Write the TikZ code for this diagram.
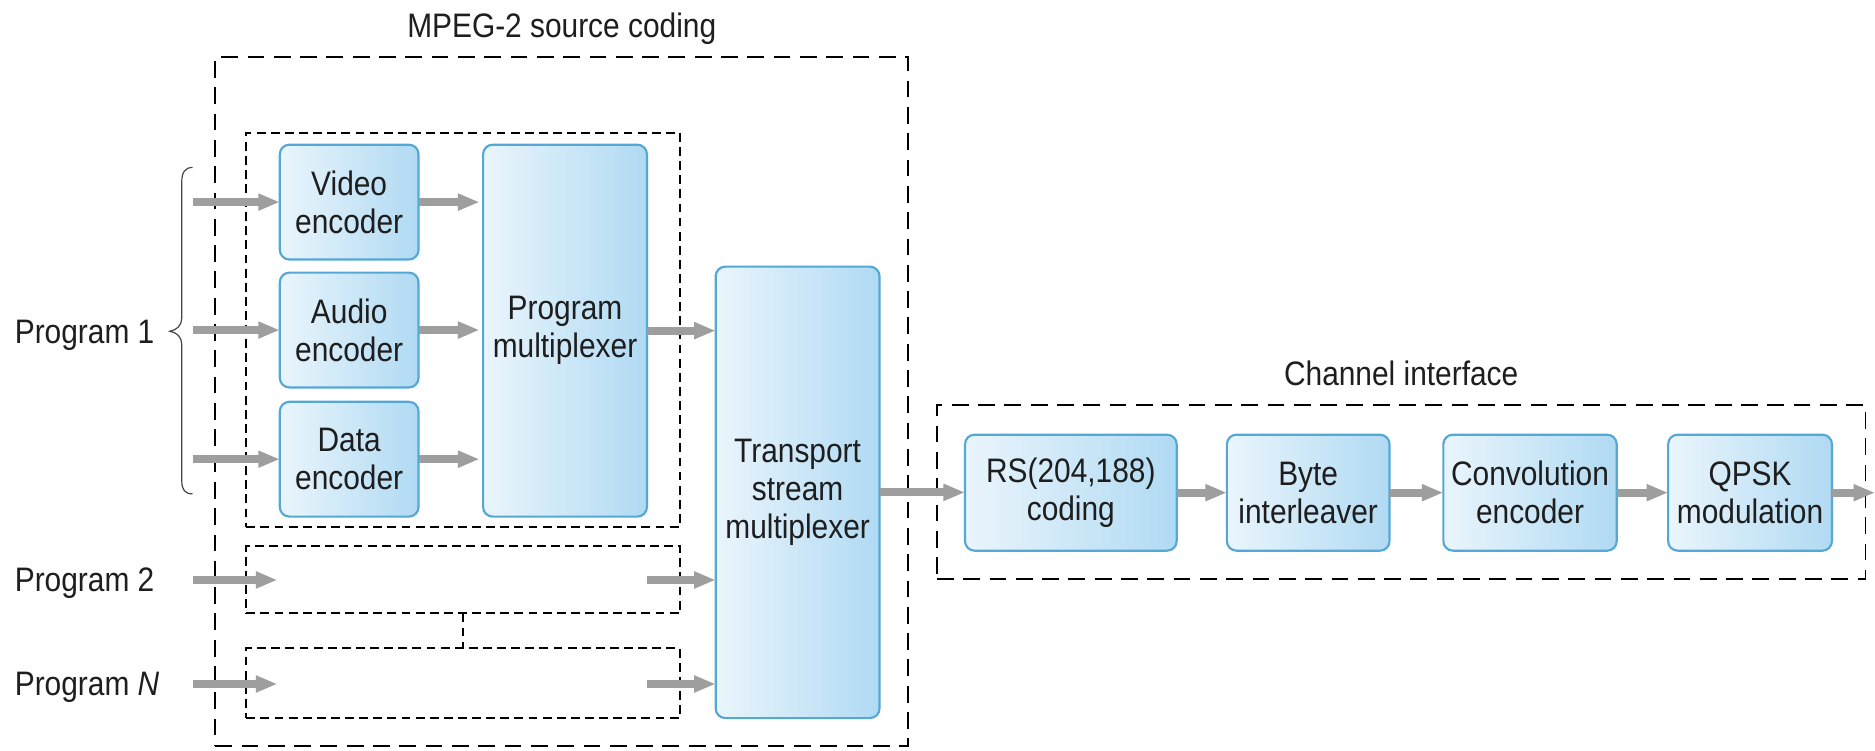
\documentclass[tikz,border=0pt]{standalone}
\usepackage{fontspec}
\setmainfont{Liberation Sans}[FakeStretch=0.88]
\usetikzlibrary{arrows.meta}

\definecolor{boxedge}{RGB}{85,168,214}
\definecolor{boxlight}{RGB}{234,245,252}
\definecolor{boxdeep}{RGB}{176,218,243}
\definecolor{flowgray}{RGB}{158,158,158}
\definecolor{inkgray}{RGB}{30,30,30}
\definecolor{bracegray}{RGB}{70,70,70}

\begin{document}
\begin{tikzpicture}[x=0.5pt, y=-0.5pt,
  font=\fontsize{14.2}{15.8}\selectfont, text=inkgray,
  blk/.style={draw=boxedge, line width=0.9pt, rounded corners=4pt,
    left color=boxlight, right color=boxdeep, align=center,
    inner sep=0pt, outer sep=0pt},
  frame/.style={draw=black, line width=0.8pt, inner sep=0pt, outer sep=0pt},
  bigdash/.style={dash pattern=on 7pt off 4pt},
  smalldash/.style={dash pattern=on 3.7pt off 2.2pt},
  flow/.style={draw=flowgray, line width=3.4pt,
    -{Triangle[length=9pt,width=6.6pt]}},
  lbl/.style={inner sep=0pt, anchor=base west},
  heading/.style={inner sep=0pt, anchor=base},
]
\fill[white] (0,0) rectangle (1568,628);
\useasboundingbox (0,0) rectangle (1568,628);

% ---- grouping frames ----
\node[frame, bigdash, minimum width=289.75pt, minimum height=288pt] (srcframe) at (469.75,336) {};
\node[frame, smalldash, minimum width=181.25pt, minimum height=164.75pt] (p1frame) at (387.25,275.75) {};
\node[frame, smalldash, minimum width=181.25pt, minimum height=28.25pt] (p2frame) at (387.25,484.75) {};
\node[frame, smalldash, minimum width=181.25pt, minimum height=29.25pt] (pnframe) at (387.25,571.25) {};
\draw[line width=0.8pt, smalldash] (p2frame.south) -- (pnframe.north);
\node[frame, bigdash, minimum width=388.25pt, minimum height=72.75pt] (chframe) at (1171.75,411.25) {};

% ---- headings ----
\node[heading] (srctitle) at (469.75,31) {MPEG-2 source coding};
\node[heading] (chtitle) at (1171.75,322) {Channel interface};

% ---- program labels ----
\node[lbl] (prog1) at (12,287) {Program 1};
\node[lbl] (prog2) at (12,495) {Program 2};
\node[lbl] (progn) at (12,582) {Program \textit{N}};

% brace grouping the three elementary streams of program 1
\draw[bracegray, line width=0.5pt]
  (161,140) .. controls (155,140) and (152,144) .. (152,152)
  -- (152,266) .. controls (152,272) and (148,276) .. (142,277)
  .. controls (148,278) and (152,282) .. (152,288)
  -- (152,402) .. controls (152,410) and (155,413) .. (161,413);

% ---- encoder blocks ----
\node[blk, minimum width=58pt, minimum height=48pt] (video) at (292,169) {Video\\encoder};
\node[blk, minimum width=58pt, minimum height=48pt] (audio) at (292,276) {Audio\\encoder};
\node[blk, minimum width=58pt, minimum height=48pt] (data) at (292,384) {Data\\encoder};
\node[blk, minimum width=68.5pt, minimum height=155.5pt] (pm) at (472.5,276.5) {Program\\multiplexer};
\node[blk, minimum width=68.5pt, minimum height=188.75pt] (tsm) at (667,411.75) {Transport\\stream\\multiplexer};

% ---- channel interface blocks ----
\node[blk, minimum width=88.5pt, minimum height=48.5pt] (rs) at (895.5,412) {RS(204,188)\\coding};
\node[blk, minimum width=68pt, minimum height=48.5pt] (byte) at (1094,412) {Byte\\interleaver};
\node[blk, minimum width=72.5pt, minimum height=48.5pt] (conv) at (1279.5,412) {Convolution\\encoder};
\node[blk, minimum width=68.5pt, minimum height=48.5pt] (qpsk) at (1463.5,412) {QPSK\\modulation};

% ---- free ends of the flow arrows ----
\coordinate (in1v) at (161,169);
\coordinate (in1a) at (161,276);
\coordinate (in1d) at (161,384);
\coordinate (in2) at (161,485);
\coordinate (in2end) at (232,485);
\coordinate (out2) at (541,485);
\coordinate (inn) at (161,572);
\coordinate (innend) at (232,572);
\coordinate (outn) at (541,572);
\coordinate (txout) at (1568,412);

% ---- flows ----
\draw[flow] (in1v) -- (video.west);
\draw[flow] (in1a) -- (audio.west);
\draw[flow] (in1d) -- (data.west);
\draw[flow, shorten >=1.5pt] (video.east) -- (video.east -| pm.west);
\draw[flow, shorten >=1.5pt] (audio.east) -- (audio.east -| pm.west);
\draw[flow, shorten >=1.5pt] (data.east) -- (data.east -| pm.west);
\draw[flow] (pm.east) -- (pm.east -| tsm.west);
\draw[flow] (in2) -- (in2end);
\draw[flow] (out2) -- (out2 -| tsm.west);
\draw[flow] (inn) -- (innend);
\draw[flow] (outn) -- (outn -| tsm.west);
\draw[flow] (tsm.east) -- (tsm.east -| rs.west);
\draw[flow] (rs.east) -- (byte.west);
\draw[flow] (byte.east) -- (conv.west);
\draw[flow] (conv.east) -- (qpsk.west);
\draw[flow] (qpsk.east) -- (txout);
\end{tikzpicture}
\end{document}
